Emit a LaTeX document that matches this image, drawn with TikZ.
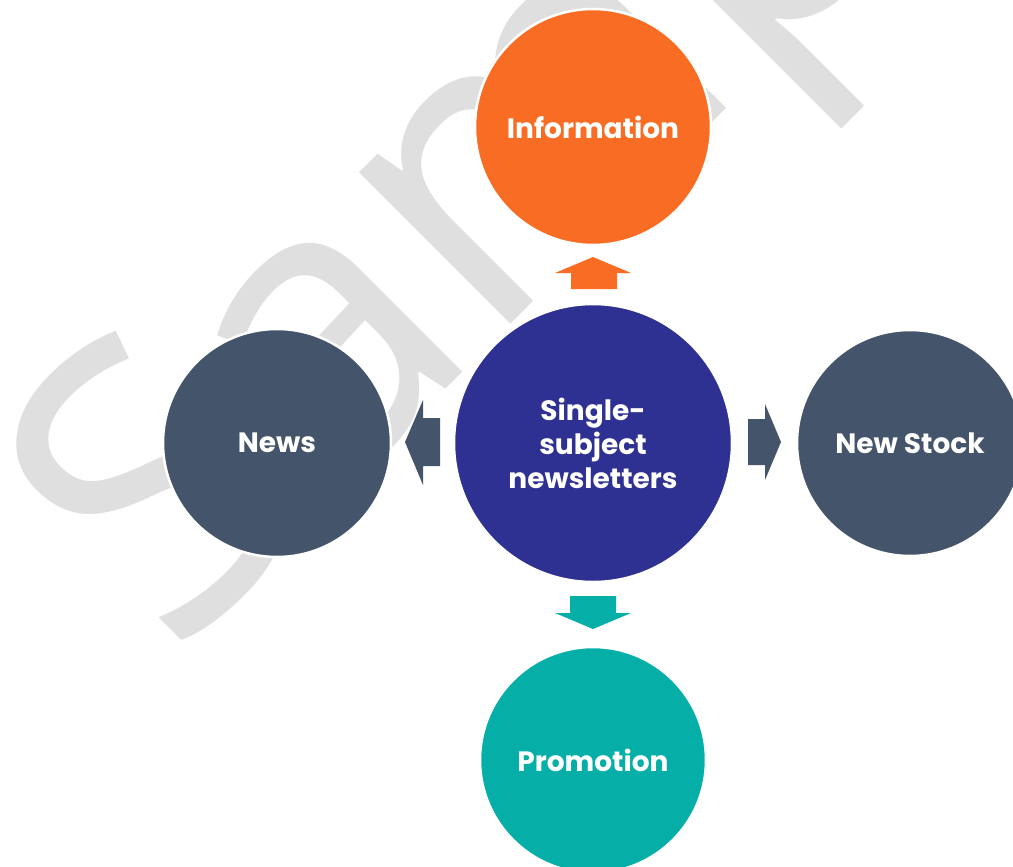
\documentclass[tikz,border=0pt]{standalone}
\usepackage{fontspec}
\setmainfont{Poppins}
\newfontfamily\wmfont{Open Sans}
\definecolor{orng}{HTML}{F86D23}
\definecolor{navy}{HTML}{2E3192}
\definecolor{slate}{HTML}{44546A}
\definecolor{teal2}{HTML}{05AFA8}
\definecolor{wmark}{HTML}{DFDFDF}
\begin{document}
\begin{tikzpicture}[x=1pt,y=-1pt,
  bubble/.style={circle,draw=white,line width=2.5pt,text=white,font=\fontsize{28}{34}\selectfont\bfseries,align=center,inner sep=0pt}]
\useasboundingbox (0,0) rectangle (1013,867);
\fill[white] (0,0) rectangle (1013,867);
% watermark
\node[text=wmark,rotate=45,anchor=base west,inner sep=0pt,font=\wmfont\fontsize{400}{400}\selectfont] (wm) at (173.5,661.5) {Sample};
% circles
\node[bubble,fill=orng,minimum size=236pt] (info) at (593,127) {Information};
\node[bubble,fill=slate,minimum size=228pt] (news) at (277,443) {News};
\node[bubble,fill=slate,minimum size=226pt] (stock) at (910,443) {New Stock};
\node[bubble,fill=teal2,minimum size=226pt] (promo) at (593,760) {Promotion};
\node[bubble,fill=navy,minimum size=278pt] (core) at (593,443) {Single-\\subject\\newsletters};
% arrows
\fill[orng] (593,257) -- (631,273) -- (617,273) -- (617,289) -- (571,289) -- (571,273) -- (555,273) -- cycle;
\fill[teal2] (570,596) -- (616,596) -- (616,613) -- (631,613) -- (593,629) -- (555,613) -- (570,613) -- cycle;
\fill[slate] (405,442) -- (423,400) -- (423,418) -- (440,418) -- (440,466) -- (423,466) -- (423,485) -- cycle;
\fill[slate] (748,419) -- (765,419) -- (765,404) -- (781,442) -- (765,480) -- (765,465) -- (748,465) -- cycle;
\end{tikzpicture}
\end{document}
